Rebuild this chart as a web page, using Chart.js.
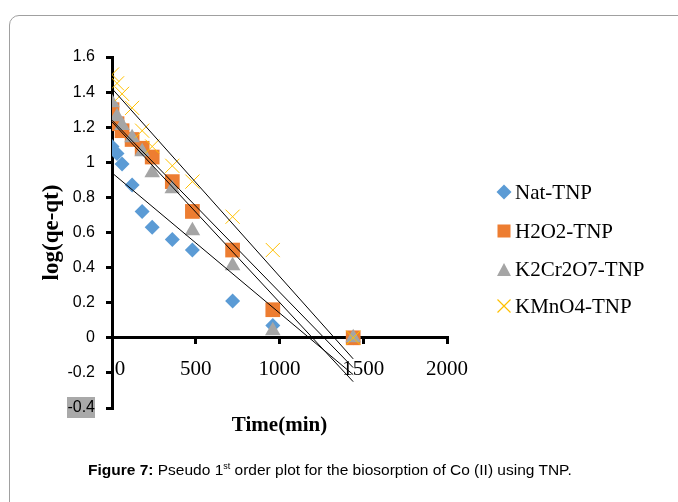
<!DOCTYPE html>
<html>
<head>
<meta charset="utf-8">
<script src="https://cdn.jsdelivr.net/npm/chart.js@4.4.1/dist/chart.umd.min.js"></script>
<style>
  body { margin: 0; background: #fff; }
  #wrap { position: relative; width: 678px; height: 502px; overflow: hidden; }
  #frame { position: absolute; left: 9px; top: 15px; width: 720px; height: 520px;
           border: 1px solid #a0a0a0; border-radius: 10px; }
  #chart { position: absolute; left: 0; top: 0; }
  .leg { position: absolute; left: 496px; font: 21px "Liberation Serif", serif; color: #000; }
  .leg svg { position: absolute; left: 0; top: 50%; margin-top: -8px; }
  .leg span { position: absolute; left: 19px; top: 50%; transform: translateY(-50%); white-space: nowrap; }
  #caption { position: absolute; left: 88px; top: 461px; font: 15.5px "Liberation Sans", Arial, sans-serif; color: #000; white-space: nowrap; }
</style>
</head>
<body>
<div id="wrap">
  <div id="frame"></div>
  <canvas id="chart" width="678" height="502"></canvas>
  <div id="legend"></div>
  <div id="caption"><b>Figure 7:</b> Pseudo 1<sup style="font-size:9px">st</sup> order plot for the biosorption of Co (II) using TNP.</div>
</div>
<script>
// time (min)
var times = [0, 30, 60, 120, 180, 240, 360, 480, 720, 960, 1440];
// log(qe-qt)
var natTNP = [1.09, 1.05, 0.99, 0.87, 0.72, 0.63, 0.56, 0.50, 0.21, 0.07, 0];
var h2o2TNP = [1.30, 1.22, 1.18, 1.13, 1.08, 1.03, 0.89, 0.72, 0.50, 0.16, 0];
var k2cr2o7TNP = [1.34, 1.26, 1.21, 1.14, 1.06, 0.94, 0.85, 0.61, 0.41, 0.04, 0];
var kmno4TNP = [1.50, 1.45, 1.39, 1.31, 1.18, 1.09, 0.98, 0.89, 0.69, 0.50, 0];

// linear trendlines (values at the two ends)
var trendT = [0, 1440];
var natFit = [0.94, -0.21];
var h2o2Fit = [1.24, -0.17];
var k2cr2o7Fit = [1.23, -0.25];
var kmno4Fit = [1.42, -0.12];

var seriesNames = ['Nat-TNP', 'H2O2-TNP', 'K2Cr2O7-TNP', 'KMnO4-TNP'];
var seriesColors = ['#5B9BD5', '#ED7D31', '#A5A5A5', '#FFC000'];

var yTicks = [-0.4, -0.2, 0, 0.2, 0.4, 0.6, 0.8, 1, 1.2, 1.4, 1.6];
var xTicks = [0, 500, 1000, 1500, 2000];

function pts(xs, ys) {
    return xs.map((x, i) => ({x: x, y: ys[i]}));
}

function trend(ys) {
    return {
        data: pts(trendT, ys),
        showLine: true,
        borderColor: '#000',
        borderWidth: 1,
        pointRadius: 0,
        order: 0
    };
}

const serif = '"Liberation Serif", "Times New Roman", serif';

// grey highlight behind the -0.4 label
const labelHighlight = {
    id: 'labelHighlight',
    beforeDraw(chart) {
        const y = chart.scales.y;
        const py = y.getPixelForValue(-0.4);
        const ctx = chart.ctx;
        ctx.save();
        ctx.fillStyle = '#a9a9a9';
        ctx.fillRect(y.right - 45, py - 11, 28, 21);
        ctx.restore();
    }
};

new Chart(document.getElementById('chart'), {
    type: 'scatter',
    data: {
        datasets: [
            {label: seriesNames[0], data: pts(times, natTNP), pointStyle: 'rectRot', pointRadius: 7.5,
             backgroundColor: seriesColors[0], borderColor: seriesColors[0], borderWidth: 0, order: 4},
            {label: seriesNames[1], data: pts(times, h2o2TNP), pointStyle: 'rect', pointRadius: 10.4,
             backgroundColor: seriesColors[1], borderColor: seriesColors[1], borderWidth: 0, order: 3},
            {label: seriesNames[2], data: pts(times, k2cr2o7TNP), pointStyle: 'triangle', pointRadius: 9,
             backgroundColor: seriesColors[2], borderColor: seriesColors[2], borderWidth: 0, order: 2},
            {label: seriesNames[3], data: pts(times, kmno4TNP), pointStyle: 'crossRot', pointRadius: 10,
             backgroundColor: seriesColors[3], borderColor: seriesColors[3], borderWidth: 1, order: 1},
            trend(natFit), trend(h2o2Fit), trend(k2cr2o7Fit), trend(kmno4Fit)
        ]
    },
    options: {
        responsive: false,
        animation: false,
        layout: {padding: {left: 0, top: 57, right: 231, bottom: 94}},
        plugins: {legend: {display: false}, tooltip: {enabled: false}},
        scales: {
            x: {
                type: 'linear',
                position: {y: 0},
                min: 0, max: 2000,
                afterBuildTicks: s => { s.ticks = xTicks.map(v => ({value: v})); },
                ticks: {
                    color: '#000', padding: 14, maxRotation: 0,
                    font: {family: serif, size: 21},
                    callback: v => v === 0 ? '   0' : String(v)
                },
                grid: {display: true, drawOnChartArea: false, drawTicks: true, tickLength: 5, color: '#000', lineWidth: 3},
                border: {display: true, color: '#000', width: 3},
                title: {display: true, text: 'Time(min)', color: '#000', padding: 0,
                        font: {family: serif, size: 21, weight: 'bold'}},
                afterFit: s => { s.height = 88 + 12.6; }
            },
            y: {
                min: -0.4, max: 1.6,
                afterBuildTicks: s => { s.ticks = yTicks.map(v => ({value: v})); },
                ticks: {
                    color: '#000', padding: 11,
                    font: {family: '"Liberation Sans", Arial, sans-serif', size: 16},
                    callback: v => String(Math.round(v * 10) / 10)
                },
                grid: {display: true, drawOnChartArea: false, drawTicks: true, tickLength: 6, color: '#000', lineWidth: 3},
                border: {display: true, color: '#000', width: 3},
                title: {display: true, text: 'log(qe-qt)', color: '#000', padding: {top: 38, bottom: 0},
                        font: {family: serif, size: 23, weight: 'bold'}},
                afterFit: s => { s.width = 112; }
            }
        }
    },
    plugins: [labelHighlight]
});

// legend
var legendTops = [192, 231, 269, 306];
var legendIcons = [
    '<svg width="16" height="16"><polygon points="8,0.5 15.5,8 8,15.5 0.5,8" fill="#5B9BD5"/></svg>',
    '<svg width="16" height="16"><rect x="1.5" y="1.5" width="13" height="13" fill="#ED7D31"/></svg>',
    '<svg width="16" height="16"><polygon points="8,2 15,15 1,15" fill="#A5A5A5"/></svg>',
    '<svg width="16" height="16"><path d="M1.5,1.5 L14.5,14.5 M14.5,1.5 L1.5,14.5" stroke="#FFC000" stroke-width="1.2"/></svg>'
];
var legendDiv = document.getElementById('legend');
seriesNames.forEach((name, i) => {
    var row = document.createElement('div');
    row.className = 'leg';
    row.style.top = (legendTops[i] - 10) + 'px';
    row.style.height = '20px';
    row.innerHTML = legendIcons[i] + '<span>' + name + '</span>';
    legendDiv.appendChild(row);
});
</script>
</body>
</html>
